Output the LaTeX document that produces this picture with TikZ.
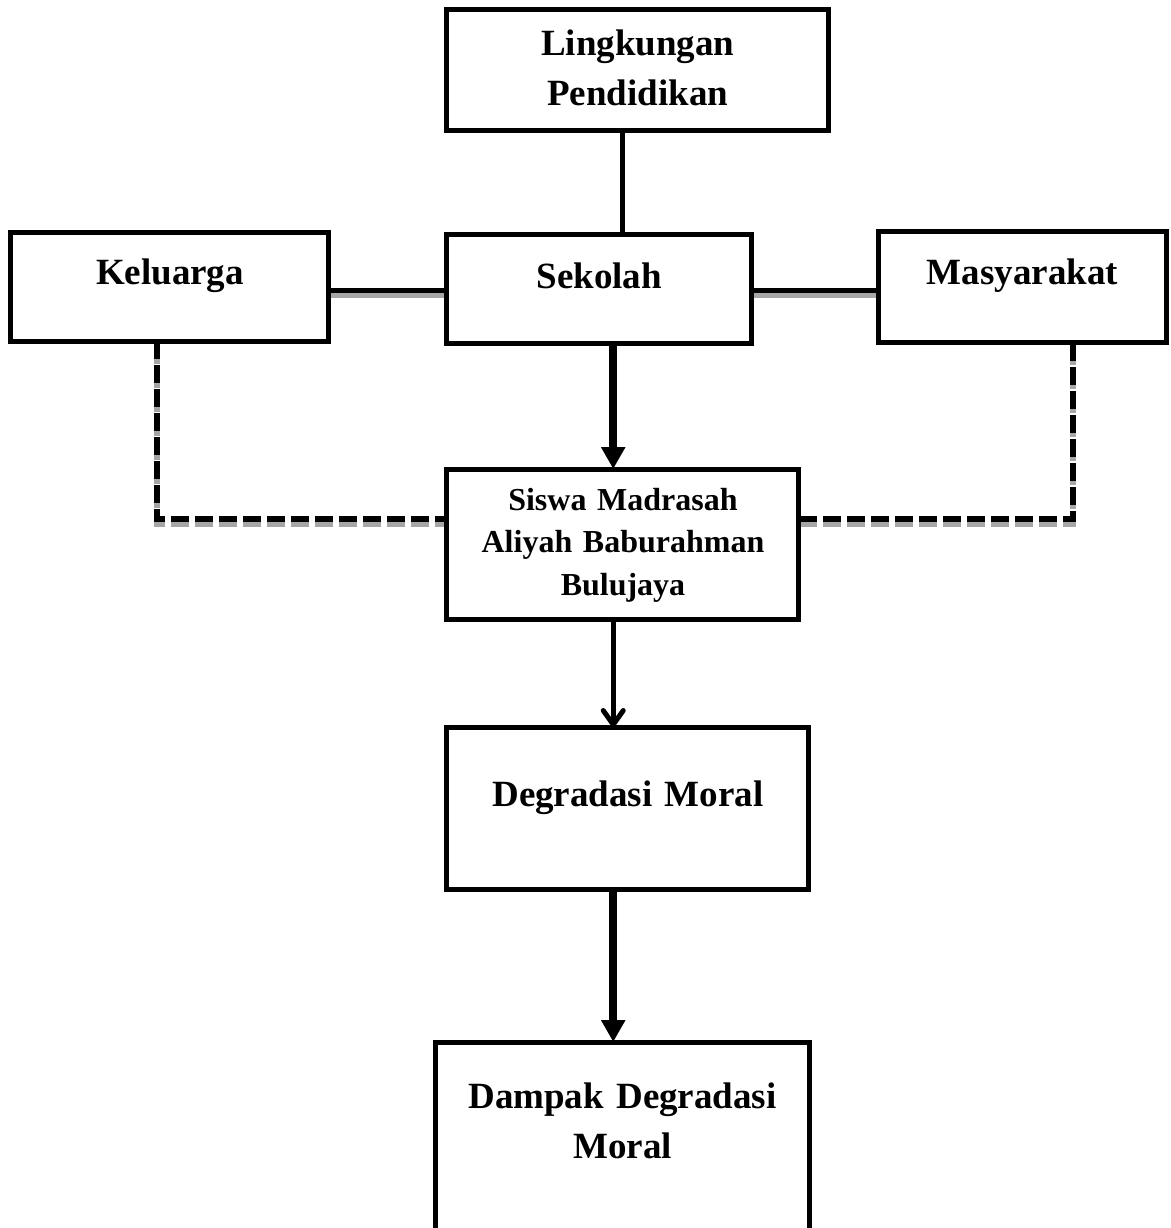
\documentclass[tikz,border=0pt]{standalone}
\usepackage{fontspec}
\setmainfont{Liberation Serif}
\usetikzlibrary{positioning,arrows.meta,backgrounds}
\definecolor{shadowgray}{HTML}{A6A6A6}
\begin{document}
\begin{tikzpicture}[
        box/.style={rectangle, draw=black, line width=2.5pt, inner sep=0pt, outer sep=0pt, align=center, font=\bfseries\fontsize{18.5}{25}\selectfont},
        link/.style={line width=2.5pt},
        shadowed/.style={preaction={draw=shadowgray, line width=2.5pt, transform canvas={yshift=-2.25pt}}},
        dashlink/.style={line width=3pt, dash pattern=on 9pt off 3pt,
            preaction={draw=shadowgray, line width=3pt, dash pattern=on 9pt off 3pt, transform canvas={yshift=-2.25pt}}},
        bigarrow/.style={line width=3.75pt, -{Triangle[width=11.5pt, length=11pt]}},
        thinarrow/.style={line width=2.5pt, -{Straight Barb[width=10pt, length=7pt, round]}}]

        % Page frame
        \useasboundingbox (-299.625pt,-469.75pt) rectangle (285.875pt,144.25pt);
        \clip (-299.625pt,-469.75pt) rectangle (285.875pt,144.25pt);

        % Sekolah
        \node[box, text width=152.25pt, text height=27pt, text depth=27.5pt] (sekolah) at (0,0) {Sekolah};

        % Lingkungan Pendidikan
        \node[box, text width=191.25pt, text height=23pt, text depth=37.75pt, above=51.75pt of sekolah, xshift=19.25pt] (lingkungan) {Lingkungan\\Pendidikan};

        % Keluarga and Masyarakat
        \node[box, text width=159pt, text height=26pt, text depth=28.5pt, left=59pt of sekolah, yshift=1pt] (keluarga) {Keluarga};
        \node[box, text width=143.5pt, text height=26.25pt, text depth=29.25pt, right=63.75pt of sekolah, yshift=0.75pt] (masyarakat) {Masyarakat};

        % Siswa
        \node[box, text width=176pt, text height=20.5pt, text depth=54.5pt, below=63pt of sekolah, xshift=11.875pt, font=\bfseries\fontsize{16}{21.25}\selectfont] (siswa) {Siswa Madrasah\\Aliyah Baburahman\\Bulujaya};

        % Degradasi Moral
        \node[box, text width=181pt, text height=39.5pt, text depth=41.5pt, below=54pt of siswa, xshift=2.5pt] (degradasi) {Degradasi Moral};

        % Dampak
        \node[box, text width=187pt, text height=33pt, text depth=71pt, below=76.5pt of degradasi, xshift=-2.75pt] (dampak) {Dampak Degradasi\\Moral};

        \coordinate (spine) at ([xshift=7pt]sekolah.south);

        % Draw lines
        \begin{scope}[on background layer]
        \draw[link] (lingkungan.south -| siswa) -- (sekolah.north -| siswa);
        \draw[link, shadowed] ([yshift=-1pt]sekolah.west) -- ([yshift=-1pt]sekolah.west -| keluarga.east);
        \draw[link, shadowed] ([yshift=-1pt]sekolah.east) -- ([yshift=-1pt]sekolah.east -| masyarakat.west);
        \draw[dashlink] ([xshift=-6.5pt]keluarga.south) |- ([yshift=12.5pt]siswa.west);
        \draw[dashlink] ([xshift=25.25pt]masyarakat.south) |- ([yshift=12.5pt]siswa.east);
        \draw[bigarrow] (sekolah.south -| spine) -- (siswa.north -| spine);
        \draw[thinarrow] (siswa.south -| spine) -- (degradasi.north -| spine);
        \draw[bigarrow] (degradasi.south -| spine) -- (dampak.north -| spine);
        \end{scope}

    \end{tikzpicture}
\end{document}
